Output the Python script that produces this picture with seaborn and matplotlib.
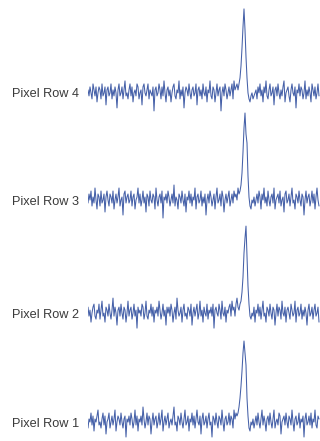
import numpy as np
import pandas as pd
import matplotlib
matplotlib.use("Agg")
import matplotlib.pyplot as plt
import seaborn as sns

# ---- data (arbitrary signal units) ----
row_labels = ["Pixel Row 1", "Pixel Row 2", "Pixel Row 3", "Pixel Row 4"]

row4 = [1, -1, 2, 0, -2, 3, 1, -1, 2, -3, 0, 2, 1, -2, 3, -1, 0, 2, -4, 1,
        2, -1, 0, 3, -2, 1, -1, 2, 0, -5, 1, 3, -1, 0, 2, -2, 1, 4, -1, 0,
        -2, 1, 3, -1, 2, -3, 0, 1, -1, 3, 2, -2, 0, 1, -4, 2, 3, 0, -1, 1,
        3, -2, 1, 0, -1, 2, -6, 1, 2, -1, 0, 3, 1, -2, 2, -1, 4, 0, -3, 1,
        2, -1, 1, -3, 0, 2, 3, -1, -2, 1, 0, 4, -2, 1, -1, 2, -5, 0, 2, 1,
        -1, 3, 0, -2, 1, 2, -1, 0, 3, -4, 1, 2, -1, 1, -2, 3, 0, -1, 2, -3,
        1, 0, 4, -1, -2, 2, 1, -3, 0, 3, -1, 1, 2, -6, 0, 2, -1, 3, 1, -2,
        0, 2, -1, 1, 3, -2, 4, 1, 2, 3, 1, 3, 5, 9, 15, 22, 28, 21, 12, 5,
        0, -2, -3, -1, 0, -2, -1, 0, 1, -2, 2, 0, 3, -1, 1, -3, 2, 0, 4, -1,
        -2, 1, 3, -1, 0, 2, -4, 1, 2, -1, 3, 0, -2, 1, -1, 2, 4, -3, 0, 1,
        2, -1, -3, 1, 3, 0, -1, 2, -5, 1, 0, 3, -1, 2, 1, -2, 0, 4, -2, 1,
        -1, 2, 0, -3, 3, 1, -1, 2, -2, 0, 3, -1]

row3 = [-1, 2, 0, 3, -2, 1, -1, 4, 0, -3, 2, 1, -2, 3, -1, 0, 2, -4, 1, 3,
        0, -2, 2, 1, -1, 3, -3, 0, 2, -1, 1, 4, -2, 0, 1, -5, 2, 3, -1, 1,
        2, -1, 0, 3, -2, 1, 2, -3, 0, 1, 4, -1, 2, -2, 0, 3, -1, 1, -4, 2,
        1, -2, 3, 0, -1, 2, 1, -3, 4, 0, -2, 1, 2, -1, 3, -6, 1, 0, 2, -1,
        3, 1, -2, 0, 2, -1, 5, -2, 1, 0, -3, 2, 1, -1, 3, 0, -2, 2, -4, 1,
        0, 3, -1, 2, -2, 1, 0, 4, -3, 1, 2, -1, 0, 3, -2, 1, -1, 2, -5, 0,
        2, -1, 3, 1, -2, 0, 2, -3, 1, 4, -1, 0, 2, -2, 3, 1, -4, 0, 2, -1,
        1, 3, -2, 0, 2, -1, 3, 1, 2, 0, 4, 2, 3, 5, 9, 16, 24, 29, 22, 19,
        8, 1, -2, -3, 0, -1, 1, -2, 0, 2, -1, 3, 1, -3, 2, 0, 4, -1, 1, -2,
        3, 0, -2, 1, 2, -1, 4, -3, 0, 1, 2, -1, 3, -2, 0, 1, -4, 2, 3, -1,
        0, 2, -2, 1, 4, -1, 0, -3, 2, 1, -1, 3, 0, -2, 2, 1, -5, 0, 3, -1,
        1, 2, -2, 0, 3, -1, 2, -3, 1, 4, 0, -2]

row2 = [2, -1, 1, -3, 0, 2, 3, -1, -2, 1, 0, 3, -2, 1, 4, -1, 0, -3, 2, 1,
        -1, 3, 0, -2, 1, 5, -1, 2, 0, -4, 1, 2, -1, 3, 0, -2, 2, 1, -3, 0,
        4, -1, 1, 2, -2, 0, 3, -1, 1, -5, 2, 0, 1, -1, 3, 2, -2, 0, 4, -1,
        -2, 1, 0, 3, -1, 2, -3, 1, 0, 2, -1, 4, 1, -2, 0, 3, -1, 1, -4, 2,
        0, 2, -1, 3, 1, -3, 0, 2, -2, 5, 1, -1, 0, 2, -3, 1, 3, -1, 0, -2,
        2, 1, -1, 3, -4, 0, 2, -1, 1, 3, -2, 0, 4, -1, 1, -3, 2, 0, -1, 3,
        -2, 1, 0, 2, -1, 3, -5, 1, 2, 0, -1, 3, 1, -2, 4, 0, -1, 2, -3, 1,
        0, 2, 3, -1, 4, 1, 2, -1, 3, 5, 2, 1, 3, 4, 7, 12, 20, 25, 29, 19,
        9, 3, -1, -2, 0, -1, 2, -3, 1, 0, 3, -1, 2, -2, 1, 4, -1, 0, -3, 2,
        1, -1, 3, 0, -2, 2, 1, -4, 0, 3, -1, 2, 1, -2, 4, 0, -1, 2, -3, 1,
        2, 0, -2, 3, 1, -1, 0, 4, -3, 1, 2, -1, 0, 3, -2, 1, -1, 2, 0, -4,
        1, 3, -1, 0, 2, -2, 1, 3, -1, 0, 2, -3]

row1 = [-2, 1, 0, 3, -1, 2, -3, 1, 0, 2, 4, -1, 0, -2, 1, 3, -1, 2, -4, 0,
        1, 3, -2, 0, 2, -1, 1, 4, -3, 0, 2, 1, -1, 3, 0, -2, 1, 2, -5, 1,
        0, 2, -1, 3, 1, -2, 0, 4, -1, 2, -3, 1, 0, 2, -1, 5, 1, -2, 0, 3,
        -1, 2, 1, -4, 0, 3, -1, 1, 2, -2, 0, 3, -1, 1, 4, -3, 0, 2, -1, 1,
        3, -2, 0, 1, -1, 2, 5, -1, 0, -3, 2, 1, -1, 3, 0, -2, 1, 4, -1, 0,
        2, -3, 1, 0, 3, -1, 2, -2, 1, 4, 0, -1, 2, -4, 1, 3, -1, 0, 2, -2,
        1, 3, -1, 0, -5, 2, 1, -1, 3, 0, -2, 2, 1, -1, 4, 0, -3, 1, 2, -1,
        0, 3, -1, 2, 1, -2, 4, 1, 3, 2, 3, 5, 8, 12, 17, 23, 27, 23, 19, 8,
        2, -2, -3, 0, -1, 1, -2, 0, 2, -1, 3, 0, -2, 1, 4, -1, 2, 0, -3, 1,
        2, -1, 3, 0, -2, 1, 4, -2, 0, 1, -1, 3, 2, -4, 0, 1, 2, -1, 3, 0,
        -2, 2, 1, -1, 4, 0, -3, 1, 2, -1, 0, 3, -2, 1, 0, 2, -5, 1, 3, -1,
        0, 2, -1, 3, -2, 1, 0, 4, -1, -2, 2, 1]

series = [row1, row2, row3, row4]

# ---- layout constants ----
offsets = [0.0, 36.3, 74.0, 109.7]
line_color = "#4560a8"

frames = []
for lab, vals, off in zip(row_labels, series, offsets):
    frames.append(pd.DataFrame({
        "sample": np.arange(len(vals)),
        "value": np.asarray(vals, dtype=float) + off,
        "row": lab,
    }))
df = pd.concat(frames, ignore_index=True)

sns.set_style("white")
plt.rcParams["font.family"] = ["Liberation Sans", "DejaVu Sans"]

fig = plt.figure(figsize=(3.2, 4.41), dpi=100)
ax = fig.add_axes([88 / 320, 0, 232 / 320, 1])

sns.lineplot(data=df, x="sample", y="value", units="row", estimator=None,
             color=line_color, linewidth=0.75, ax=ax, legend=False)

ax.set_xlim(0, 232)
ax.set_ylim(-6.33, 140.67)
ax.set_xticks([])
ax.set_yticks(offsets)
ax.set_yticklabels(row_labels, fontsize=9.2, color="#3a3a3a")
ax.tick_params(axis="y", length=0, pad=6.5)
ax.set_xlabel("")
ax.set_ylabel("")
for s in ax.spines.values():
    s.set_visible(False)

fig.savefig("out.png", dpi=100)
